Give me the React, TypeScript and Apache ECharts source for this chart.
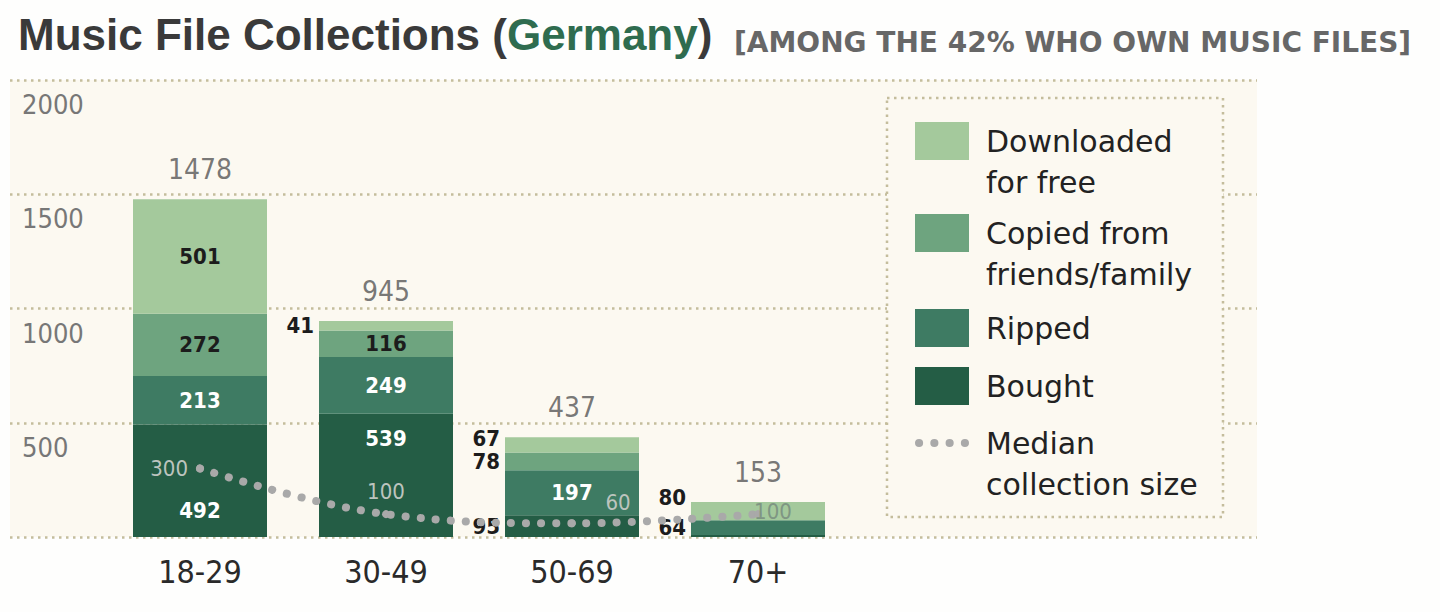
import * as echarts from "echarts";
import { useEffect, useRef } from "react";

const ageGroups = ["18-29", "30-49", "50-69", "70+"];
const downloaded = [501, 41, 67, 80];
const copied = [272, 116, 78, 0];
const ripped = [213, 249, 197, 64];
const bought = [492, 539, 95, 9];
const totals = [1478, 945, 437, 153];
const medianSize = [300, 100, 60, 100];

const seriesNames = ["Downloaded for free", "Copied from friends/family", "Ripped", "Bought", "Median collection size"];
const legendLines = ["\nDownloaded\nfor free", "\nCopied from\nfriends/family", "Ripped", "Bought", "\nMedian\ncollection size"];
const legendCenters = [141, 233, 328, 386, 443];

const colors = { downloaded: "#a4c99c", copied: "#6ea47f", ripped: "#3e7b63", bought: "#245d45", median: "#a9a9a9" };
const plotBg = "#fcf9f1";
const gridDots = "#c4bd9c";
const font = "'DejaVu Sans Condensed', 'DejaVu Sans', sans-serif";
const wideFont = "'DejaVu Sans', sans-serif";
const titleFont = "'Liberation Sans', Arial, sans-serif";

// label rules per segment: "in" = inside, "left" = beside the bar, "none" = hidden
type Place = "in" | "left" | "none";
const downloadedPlace: Place[] = ["in", "left", "left", "left"];
const copiedPlace: Place[] = ["in", "in", "left", "none"];
const rippedPlace: Place[] = ["in", "in", "in", "left"];
const boughtPlace: Place[] = ["in", "in", "left", "none"];

const segLabel = (place: Place, inColor: string, offset?: number[]) => {
  if (place === "none") return { show: false };
  if (place === "left")
    return { show: true, position: "left", distance: 5, color: "#1c1c1c", fontWeight: "bold", fontSize: 22, fontFamily: font, offset };
  return { show: true, position: "inside", color: inColor, fontWeight: "bold", fontSize: 22, fontFamily: font, offset };
};

const stackData = (values: number[], places: Place[], inColor: string, offsets: Record<number, number[]> = {}) =>
  values.map((value, i) => ({ value, label: segLabel(places[i], inColor, offsets[i]) }));

export default function App() {
  const ref = useRef<HTMLDivElement | null>(null);

  useEffect(() => {
    if (!ref.current) return;
    document.body.style.margin = "0";
    const chart = echarts.init(ref.current, null, { renderer: "svg" });

    const dotsIcon =
      "path://M0,4a4,4 0 1,0 8,0a4,4 0 1,0 -8,0M15,4a4,4 0 1,0 8,0a4,4 0 1,0 -8,0M30,4a4,4 0 1,0 8,0a4,4 0 1,0 -8,0M45,4a4,4 0 1,0 8,0a4,4 0 1,0 -8,0";

    const legends = seriesNames.map((name, i) => {
      const lines = legendLines[i].split("\n").length;
      return {
        orient: "vertical",
        left: 915,
        top: legendCenters[i] - (lines * 41) / 2,
        padding: 0,
        itemGap: 0,
        itemWidth: 54,
        itemHeight: 38,
        selectedMode: false,
        z: 6,
        formatter: () => legendLines[i],
        textStyle: { fontSize: 30, lineHeight: 41, color: "#222", fontFamily: wideFont, padding: [0, 0, 0, 12] },
        data: [i === 4 ? { name, icon: dotsIcon, itemStyle: { color: colors.median, borderWidth: 0 } } : { name, icon: "rect" }],
      };
    });

    chart.setOption({
      animation: false,
      backgroundColor: "#fefefd",
      title: [
        {
          left: 13,
          top: 7,
          text: "{a|Music File Collections (}{g|Germany}{a|)}",
          textStyle: {
            rich: {
              a: { fontSize: 44, fontWeight: "bold", color: "#3a3a3a", fontFamily: titleFont },
              g: { fontSize: 44, fontWeight: "bold", color: "#2f6c4f", fontFamily: titleFont },
            },
          },
        },
        {
          left: 729,
          top: 23,
          text: "[AMONG THE 42% WHO OWN MUSIC FILES]",
          textStyle: { fontSize: 28, fontWeight: "bold", color: "#676767", fontFamily: wideFont },
        },
      ],
      legend: legends,
      graphic: [
        {
          type: "rect",
          z: 3,
          shape: { x: 887, y: 98, width: 336, height: 419 },
          style: { fill: plotBg, stroke: gridDots, lineWidth: 2.5, lineDash: [2.5, 4.5] },
        },
      ],
      grid: [
        { left: 10, right: 183, top: 80, bottom: 75, show: true, backgroundColor: plotBg, borderWidth: 0 },
        { left: 107, right: 589, top: 80, bottom: 75 },
      ],
      xAxis: [
        { gridIndex: 0, type: "value", show: false },
        {
          gridIndex: 1,
          type: "category",
          data: ageGroups,
          axisLine: { show: false },
          axisTick: { show: false },
          axisLabel: { color: "#2a2a2a", fontSize: 32, fontFamily: font, margin: 19 },
        },
      ],
      yAxis: [
        {
          gridIndex: 0,
          type: "value",
          min: 0,
          max: 2000,
          interval: 500,
          axisLine: { show: false },
          axisTick: { show: false },
          axisLabel: {
            inside: true,
            margin: 12,
            showMinLabel: false,
            verticalAlign: "top",
            padding: [11, 0, 0, 0],
            color: "#777",
            fontSize: 27,
            fontFamily: font,
            formatter: (v: number) => String(v),
          },
          splitLine: { lineStyle: { color: gridDots, width: 2.5, type: [2.5, 4.5] } },
        },
        { gridIndex: 1, type: "value", min: 0, max: 2000, show: false },
      ],
      series: [
        {
          name: "Bought",
          type: "bar",
          stack: "all",
          xAxisIndex: 1,
          yAxisIndex: 1,
          barWidth: 134,
          itemStyle: { color: colors.bought },
          data: stackData(bought, boughtPlace, "#fff", { 0: [0, 30], 1: [0, -37] }),
        },
        {
          name: "Ripped",
          type: "bar",
          stack: "all",
          xAxisIndex: 1,
          yAxisIndex: 1,
          itemStyle: { color: colors.ripped },
          data: stackData(ripped, rippedPlace, "#fff"),
        },
        {
          name: "Copied from friends/family",
          type: "bar",
          stack: "all",
          xAxisIndex: 1,
          yAxisIndex: 1,
          itemStyle: { color: colors.copied },
          data: stackData(copied, copiedPlace, "#1c1c1c"),
        },
        {
          name: "Downloaded for free",
          type: "bar",
          stack: "all",
          xAxisIndex: 1,
          yAxisIndex: 1,
          itemStyle: { color: colors.downloaded },
          data: stackData(downloaded, downloadedPlace, "#1c1c1c", { 2: [0, -6], 3: [0, -14] }),
        },
        {
          name: "total",
          type: "scatter",
          xAxisIndex: 1,
          yAxisIndex: 1,
          symbolSize: 0,
          silent: true,
          label: { show: true, position: "top", distance: 16, color: "#555", fontSize: 28, fontFamily: font },
          data: totals,
        },
        {
          name: "Median collection size",
          type: "line",
          xAxisIndex: 1,
          yAxisIndex: 1,
          smooth: 0.4,
          z: 4,
          color: colors.median,
          symbol: "circle",
          symbolSize: 8,
          itemStyle: { color: colors.median },
          lineStyle: { color: colors.median, width: 8, type: [0.1, 15], cap: "round" },
          label: { show: true, fontSize: 22, fontFamily: font, color: "#bcc4be" },
          data: medianSize.map((value, i) => ({
            value,
            label: [
              { position: "left", distance: 8 },
              { position: "top", distance: 8 },
              { position: "top", distance: 6, offset: [46, 0] },
              { position: "inside", offset: [15, -3], color: "#7f9683" },
            ][i],
          })),
        },
      ],
    });

    return () => chart.dispose();
  }, []);

  return <div ref={ref} style={{ width: 1440, height: 612 }} />;
}
